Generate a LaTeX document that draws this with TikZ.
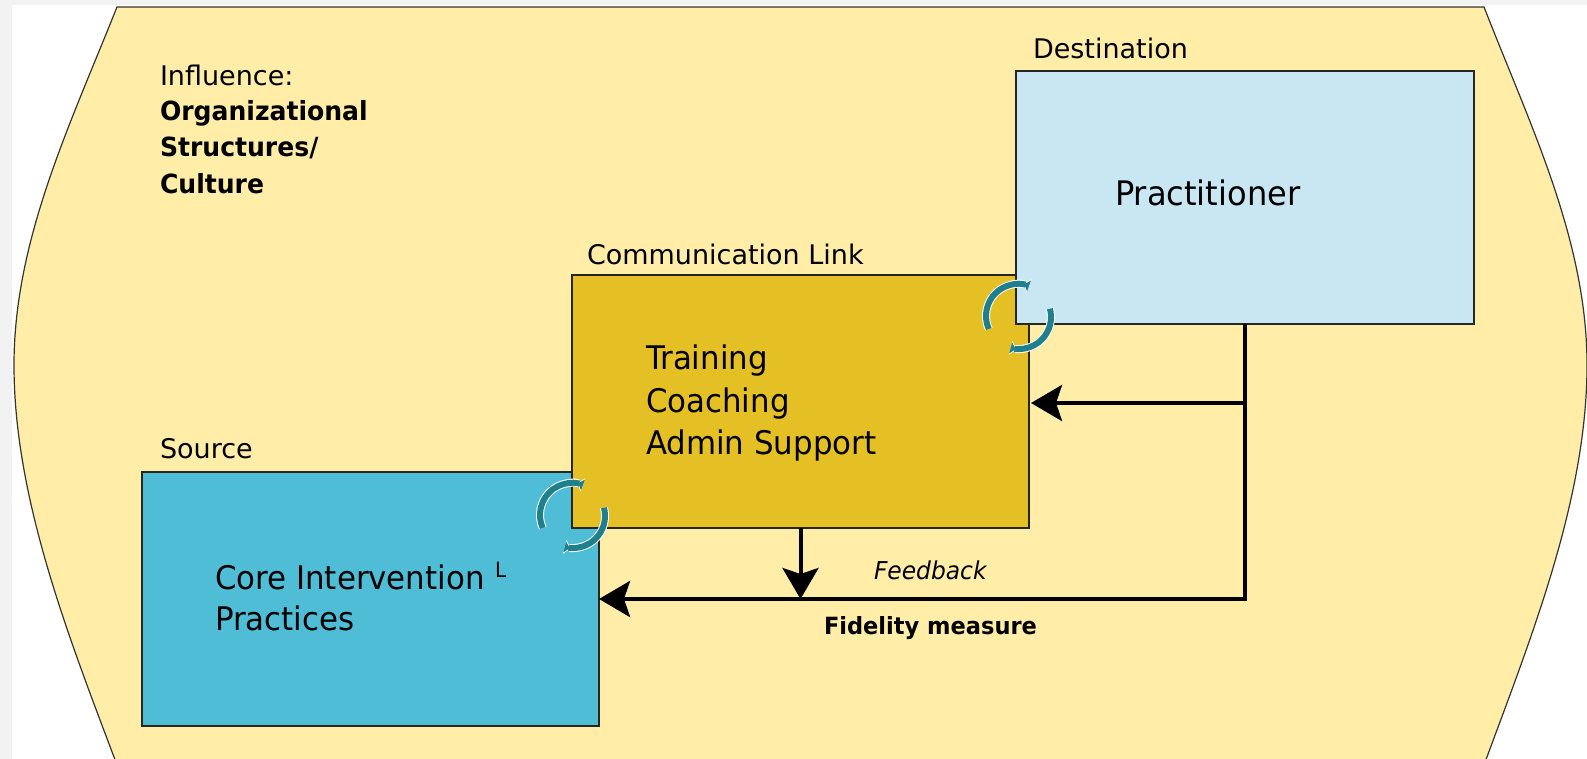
\documentclass[tikz,border=0pt]{standalone}
\usepackage{fontspec}
\setmainfont[FakeStretch=0.95]{DejaVu Sans}
\newfontfamily\smallfam{DejaVu Sans}
\usetikzlibrary{arrows.meta}
\definecolor{bgy}{HTML}{FFEDA8}
\definecolor{cblue}{HTML}{4FBDD6}
\definecolor{cgold}{HTML}{E5C024}
\definecolor{clight}{HTML}{C9E7F2}
\definecolor{cteal}{HTML}{1F7F8C}
\definecolor{cgrey}{HTML}{F2F2F2}
\tikzset{
  boxnode/.style={draw=black!85,line width=1.4pt,inner sep=0pt,outer sep=0pt,anchor=north west,minimum width=#1},
  lbl/.style={anchor=base west,inner sep=0pt,outer sep=0pt,text=black,font=\smallfam\fontsize{27}{30}\selectfont},
  boldlbl/.style={lbl,font=\fontsize{26.4}{30}\selectfont\bfseries},
  biglbl/.style={lbl,font=\fontsize{32.5}{36}\selectfont},
  flow/.style={draw=black,line width=4pt},
  flowarrow/.style={flow,-{Stealth[length=31pt,width=36pt,inset=6pt]}},
  haloarc/.style={draw=white,line width=8pt,-{Triangle[reversed,length=6pt,width=14pt]}},
  tealarc/.style={draw=cteal,line width=6pt,-{Triangle[reversed,length=5pt,width=11pt]}},
}
\begin{document}
\begin{tikzpicture}[x=1pt,y=-1pt]
\useasboundingbox (0,0) rectangle (1587,759);
\fill[cgrey] (0,0) rectangle (1587,759);
\fill[white] (12,5) rectangle (1587,759);
\begin{scope}
\clip (0,0) rectangle (1587,759);
\path[fill=bgy,draw=black!80,line width=1.2pt]
  (117,7) -- (1484,7)
  .. controls (1530,125) and (1587,240) .. (1587,365)
  .. controls (1587,500) and (1530,640) .. (1484,765)
  -- (117,765)
  .. controls (70,640) and (14,500) .. (14,365)
  .. controls (14,240) and (70,125) .. (117,7) -- cycle;
\end{scope}

\node[boxnode=457pt,minimum height=254pt,fill=cblue] (src) at (142,472) {};
\node[boxnode=457pt,minimum height=253pt,fill=cgold] (comm) at (572,275) {};
\node[boxnode=458pt,minimum height=253pt,fill=clight] (prac) at (1016,71) {};

\coordinate (junc) at (1245,599);
\coordinate (tap) at (1245,403);
\coordinate (drop) at (800.5,599);
\coordinate (corner) at (1247,599);

\draw[flow] (prac.south -| junc) -- ([yshift=-2pt]junc);
\draw[flowarrow,shorten >=2pt] (tap) -- (tap -| comm.east);
\draw[flowarrow] (corner) -- (corner -| src.east);
\draw[flowarrow] (comm.south -| drop) -- (drop);

% circular arrows
\coordinate (c1) at (572,515);
\coordinate (c2) at (1018,316);
\foreach \c in {c1,c2}{
  \draw[haloarc] (\c) ++(-29.2,13) arc[start angle=204,end angle=70,radius=32pt];
  \draw[haloarc] (\c) ++(31.9,-7.3) arc[start angle=15,end angle=-105,radius=32pt];
  \draw[tealarc] (\c) ++(-29.2,13) arc[start angle=204,end angle=70,radius=32pt];
  \draw[tealarc] (\c) ++(31.9,-7.3) arc[start angle=15,end angle=-105,radius=32pt];
}

\node[lbl] (t1) at (160,86) {Influence:};
\node[boldlbl] (t2) at (160,121) {Organizational};
\node[boldlbl] (t3) at (160,157) {Structures/};
\node[boldlbl] (t4) at (160,194) {Culture};
\node[lbl] (t5) at (1033,59) {Destination};
\node[lbl] (t6) at (587,265) {Communication Link};
\node[lbl] (t7) at (160,458) {Source};
\node[biglbl,font=\fontsize{33.8}{36}\selectfont] (t8) at (1115,206) {Practitioner};
\node[biglbl] (t9) at (646,369) {Training};
\node[biglbl] (t10) at (646,412) {Coaching};
\node[biglbl] (t11) at (646,454) {Admin Support};
\node[biglbl] (t12) at (215,589) {Core Intervention};
\node[biglbl] (t13) at (215,630) {Practices};
\node[lbl,font=\fontsize{21}{22}\selectfont] (t14) at (495,577) {L};
\node[lbl,font=\fontsize{24.6}{28}\selectfont\itshape] (t15) at (874,579) {Feedback};
\node[lbl,font=\fontsize{23.7}{28}\selectfont\bfseries] (t16) at (824,634) {Fidelity measure};
\end{tikzpicture}
\end{document}
